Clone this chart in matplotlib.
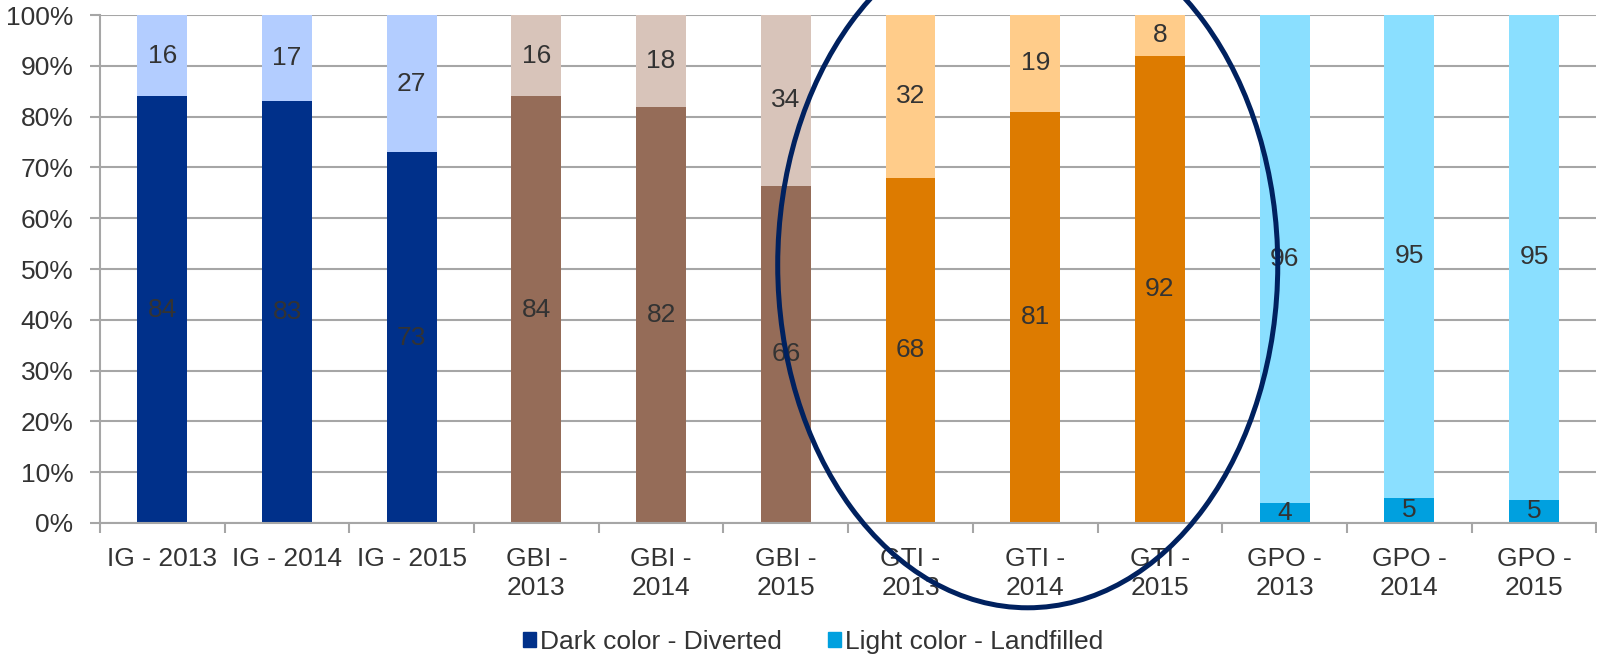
import matplotlib.pyplot as plt
from matplotlib.patches import Ellipse, Patch

plt.rcParams['font.family'] = ['Liberation Sans', 'DejaVu Sans']

categories = ['IG - 2013', 'IG - 2014', 'IG - 2015',
              'GBI -\n2013', 'GBI -\n2014', 'GBI -\n2015',
              'GTI -\n2013', 'GTI -\n2014', 'GTI -\n2015',
              'GPO -\n2013', 'GPO -\n2014', 'GPO -\n2015']
diverted = [84, 83, 73, 84, 82, 66.4, 68, 81, 92, 4, 5, 4.6]
landfilled = [100 - v for v in diverted]
dark_colors = ['#00308A'] * 3 + ['#956C58'] * 3 + ['#DD7B00'] * 3 + ['#00A0DF'] * 3
light_colors = ['#B3CDFF'] * 3 + ['#D8C4BA'] * 3 + ['#FFCC8A'] * 3 + ['#8ADFFF'] * 3

txt = '#333333'
grid = '#A6A6A6'
fs = 19

fig = plt.figure(figsize=(15.97, 6.57), dpi=100)
ax = fig.add_axes([0.0626, 0.204, 0.937, 0.773])

x = range(len(categories))
d = [v / 100 for v in diverted]
l = [v / 100 for v in landfilled]
b1 = ax.bar(x, d, width=0.4, color=dark_colors, zorder=2)
b2 = ax.bar(x, l, width=0.4, bottom=d, color=light_colors, zorder=2)
ax.bar_label(b1, labels=['%.0f' % v for v in diverted], label_type='center',
             fontsize=fs, color=txt)
ax.bar_label(b2, labels=['%.0f' % v for v in landfilled], label_type='center',
             fontsize=fs, color=txt)

ax.set_xlim(-0.5, len(categories) - 0.5)
ax.set_ylim(0, 1)
ax.set_yticks([i / 10 for i in range(11)])
ax.set_yticklabels(['%d%%' % (i * 10) for i in range(11)], fontsize=fs, color=txt)
ax.yaxis.grid(True, color=grid, linewidth=1.5, zorder=0)
ax.set_axisbelow(True)

ax.set_xticks([i - 0.5 for i in range(len(categories) + 1)])
ax.set_xticklabels([])
ax.set_xticks(list(x), minor=True)
ax.set_xticklabels(categories, minor=True, fontsize=fs, color=txt)
for t in ax.get_xticklabels(minor=True):
    t.set_linespacing(1.3)
ax.tick_params(axis='x', which='minor', length=0, pad=17)
ax.tick_params(axis='x', which='major', length=7, width=1.5, color=grid)
ax.tick_params(axis='y', length=7, width=1.5, color=grid, pad=12)

for s in ['top', 'right']:
    ax.spines[s].set_visible(False)
for s in ['left', 'bottom']:
    ax.spines[s].set_color(grid)
    ax.spines[s].set_linewidth(1.5)

ax.add_patch(Ellipse((6.94, 0.508), 4.01, 1.35, fill=False, edgecolor='#00215F',
                     linewidth=3.6, clip_on=False, zorder=5))

handles = [Patch(color='#00308A', label='Dark color - Diverted'),
           Patch(color='#00A0DF', label='Light color - Landfilled')]
fig.legend(handles=handles, loc='center', bbox_to_anchor=(0.509, 0.023), ncol=2,
           frameon=False, fontsize=fs, handlelength=0.5, handleheight=0.5,
           handletextpad=0.15, columnspacing=1.75, labelcolor=txt,
           borderpad=0, borderaxespad=0)

fig.savefig('out.png', dpi=100)
